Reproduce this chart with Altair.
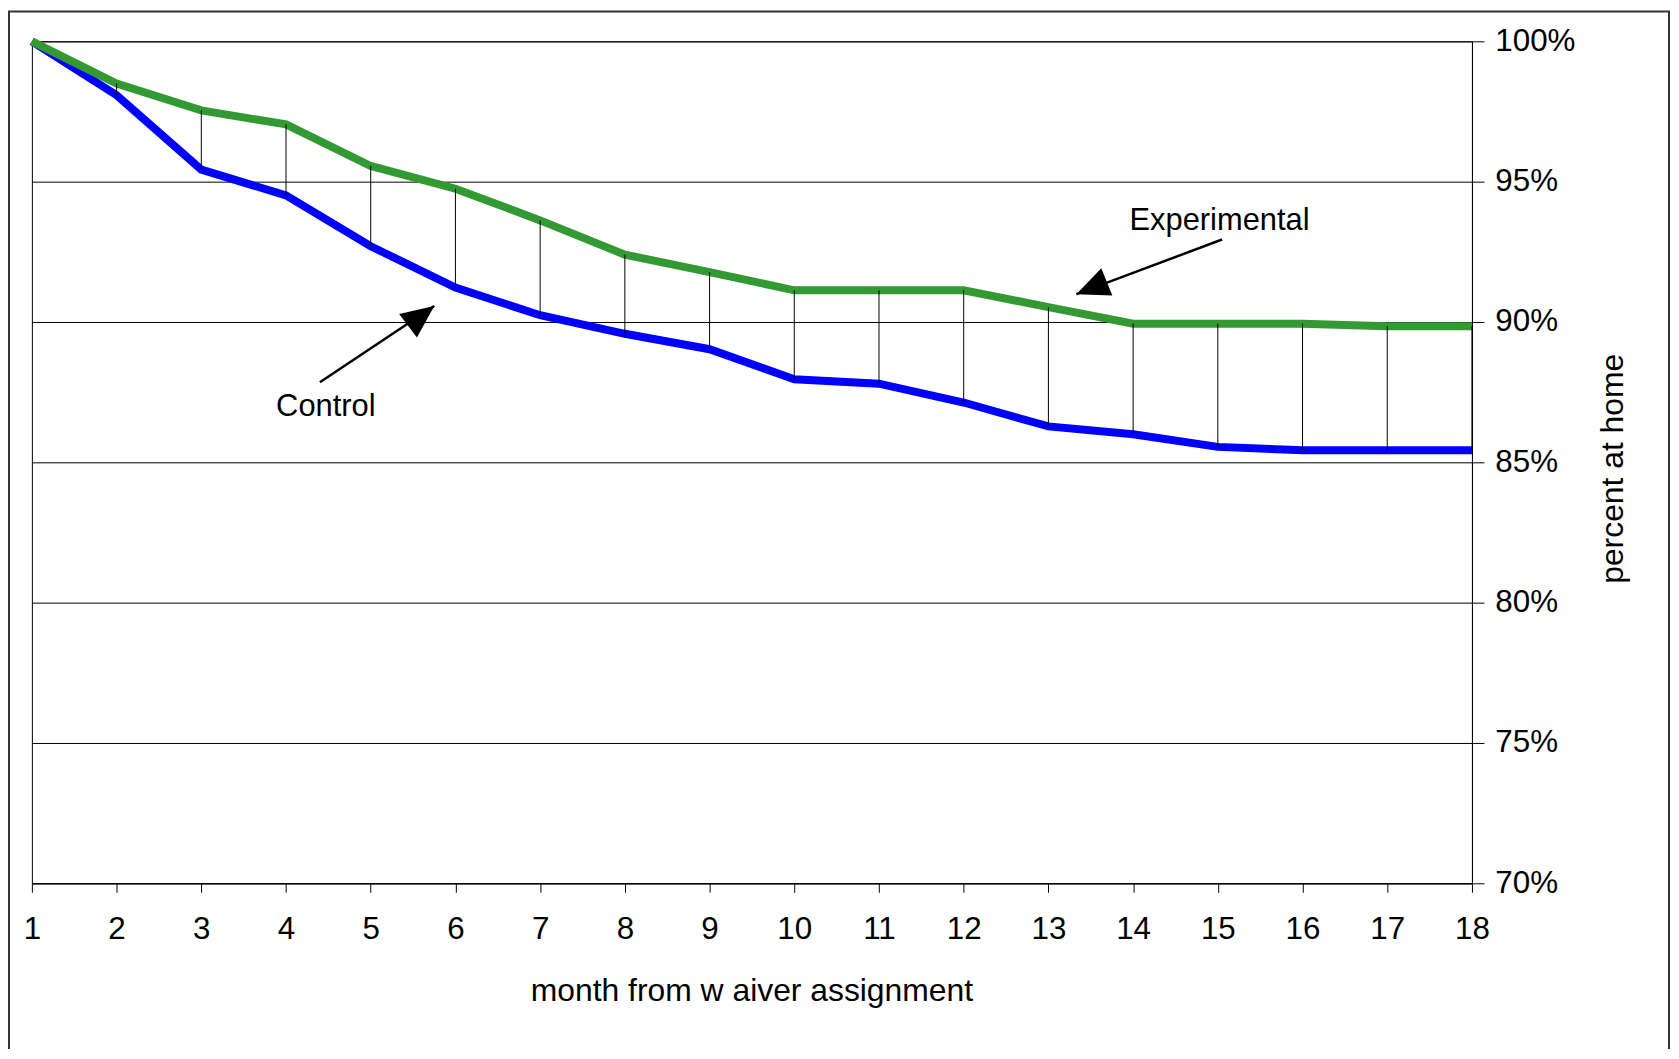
import altair as alt
import pandas as pd

# ---- data ----
months = list(range(1, 19))
experimental = [1.000, 0.985, 0.9754, 0.9704, 0.9556, 0.9475, 0.9362, 0.924, 0.9178,
                0.9113, 0.9113, 0.9113, 0.9053, 0.8994, 0.8994, 0.8994, 0.8985, 0.8985]
control = [1.000, 0.9808, 0.9543, 0.9451, 0.927, 0.9123, 0.9024, 0.8958, 0.8903,
           0.8796, 0.878, 0.8713, 0.8628, 0.860, 0.8555, 0.8543, 0.8543, 0.8543]
y_ticks = [0.70, 0.75, 0.80, 0.85, 0.90, 0.95, 1.00]

# annotations (arrow from text to curve)
arrow_from_x = [15.05, 4.40]
arrow_from_y = [0.9294, 0.8785]
arrow_to_x = [13.33, 5.75]
arrow_to_y = [0.9099, 0.9057]
arrow_angle = [248, 53]
label_text = ["Experimental", "Control"]
label_x = [15.02, 4.47]
label_y = [0.9327, 0.8666]

df = pd.DataFrame({"month": months, "experimental": experimental, "control": control})
arrows = pd.DataFrame({"fx": arrow_from_x, "fy": arrow_from_y,
                       "tx": arrow_to_x, "ty": arrow_to_y, "angle": arrow_angle})
labels = pd.DataFrame({"lx": label_x, "ly": label_y, "text": label_text})

FONT = "Liberation Sans"
xs = alt.Scale(domain=[1, 18], nice=False, zero=False)
ys = alt.Scale(domain=[0.70, 1.00], nice=False, zero=False)

x_axis = alt.Axis(values=months, grid=False, tickSize=9, labelPadding=37,
                  labelBaseline="middle", labelFlush=False, labelOverlap=False,
                  labelFontSize=31.5,
                  title="month from w aiver assignment", titleX=723, titleY=108,
                  titleAlign="center", titleBaseline="middle", titleFontSize=32)
y_axis = alt.Axis(orient="right", values=y_ticks, format=".0%", grid=True, tickSize=12,
                  labelPadding=11, labelBaseline="middle", labelFlush=False,
                  labelOverlap=False, labelFontSize=31.5,
                  title="percent at home", titleAngle=270, titleFontSize=32,
                  titleX=141, titleY=429, titleAlign="center", titleBaseline="middle")


def X(field):
    return alt.X(field, scale=xs, axis=x_axis, title="month from w aiver assignment")


def Y(field):
    return alt.Y(field, scale=ys, axis=y_axis, title="percent at home")


frame = alt.Chart(pd.DataFrame({"k": [0]})).mark_rect(
    fillOpacity=0, stroke="#333333", strokeWidth=2
).encode(x=alt.value(-23), x2=alt.value(1645), y=alt.value(-30), y2=alt.value(1100))

base = alt.Chart(df)
blue = base.mark_line(color="#0000ff", strokeWidth=8).encode(
    x=X("month:Q"), y=Y("control:Q"))
green = base.mark_line(color="#339933", strokeWidth=8).encode(
    x=X("month:Q"), y=Y("experimental:Q"))
drops = base.mark_rule(color="black", strokeWidth=1).encode(
    x=X("month:Q"), y=Y("control:Q"), y2="experimental:Q")

arrow_lines = alt.Chart(arrows).mark_rule(color="black", strokeWidth=2.5).encode(
    x=X("fx:Q"), y=Y("fy:Q"), x2="tx:Q", y2="ty:Q")
heads = alt.Chart(arrows).mark_point(
    shape="M0,0L-0.9,2L0.9,2Z", filled=True, color="black", size=1089,
    opacity=1, strokeWidth=0
).encode(x=X("tx:Q"), y=Y("ty:Q"), angle=alt.Angle("angle:Q", scale=None))
texts = alt.Chart(labels).mark_text(
    font=FONT, fontSize=31, color="black", align="center", baseline="alphabetic"
).encode(x=X("lx:Q"), y=Y("ly:Q"), text="text:N")

chart = alt.layer(frame, blue, green, drops, arrow_lines, heads, texts).properties(
    width=1447, height=846,
    autosize=alt.AutoSizeParams(type="none"),
    padding={"left": 24, "top": 31, "right": 200, "bottom": 164},
    background="white",
).configure_view(stroke="black", strokeWidth=1).configure_axis(
    gridColor="black", gridWidth=1, gridOpacity=1, domainColor="black", domainWidth=1,
    tickColor="black", tickWidth=1, labelColor="black", titleColor="black",
    labelFont=FONT, titleFont=FONT, titleFontWeight="normal")

chart.save("out.html", embed_options={"renderer": "svg", "actions": False})
